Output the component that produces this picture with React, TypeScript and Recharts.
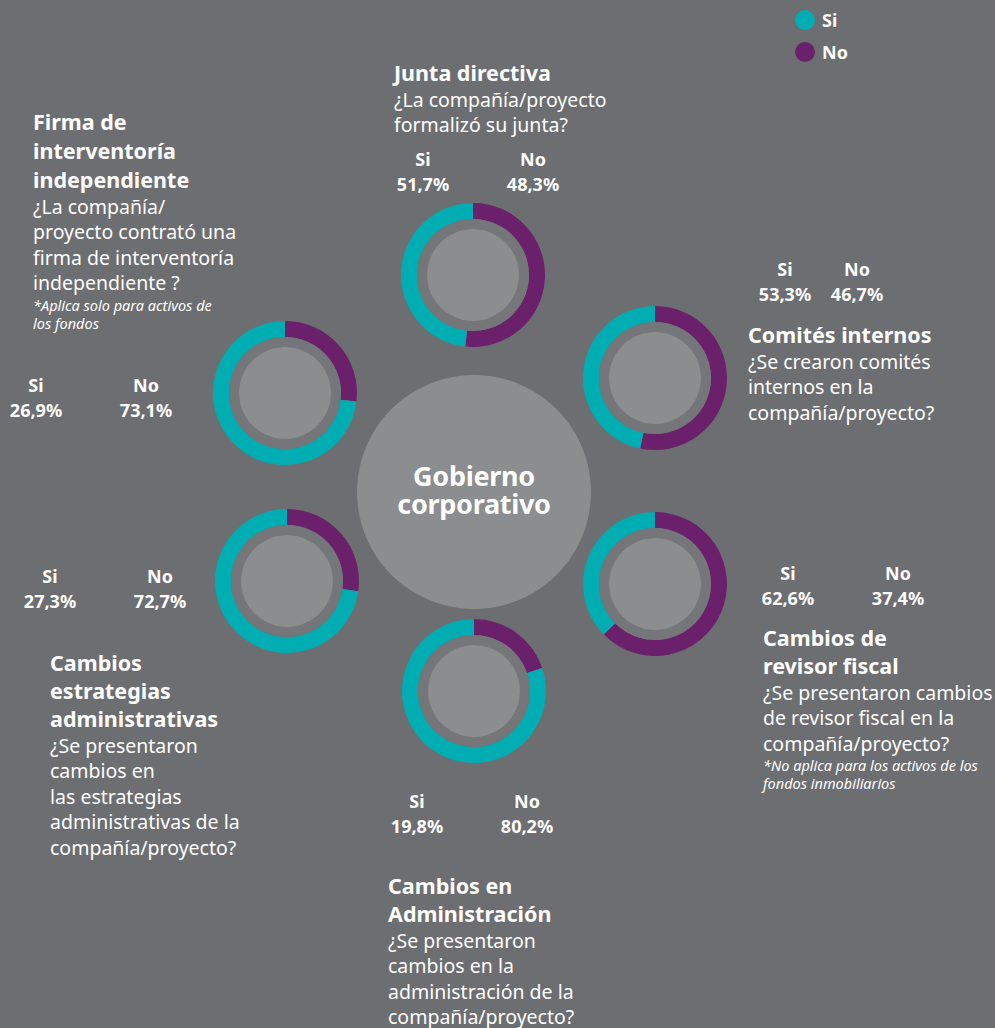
import React from 'react';
import { PieChart, Pie, Cell } from 'recharts';

// data
const groups = [
  'Junta directiva',
  'Comités internos',
  'Cambios de revisor fiscal',
  'Cambios en Administración',
  'Cambios estrategias administrativas',
  'Firma de interventoría independiente',
];
const siValues = [51.7, 53.3, 62.6, 19.8, 27.3, 26.9];
const noValues = [48.3, 46.7, 37.4, 80.2, 72.7, 73.1];
const siLabels = ['51,7%', '53,3%', '62,6%', '19,8%', '27,3%', '26,9%'];
const noLabels = ['48,3%', '46,7%', '37,4%', '80,2%', '72,7%', '73,1%'];

const W = 995;
const H = 1028;
const BG = '#6d6e71';
const TEAL = '#00adb2';
const PURPLE = '#6b206c';
const GAP = '#757679';
const DISC = '#8c8d8f';
const FONT = '"Noto Sans", sans-serif';

// donut centres on the page
const CENTERS = [
  [473, 275],
  [655, 378],
  [655, 584],
  [474, 691],
  [287, 581],
  [285, 393],
];

// Si/No label columns: [siX, noX, topY]
const PCT_POS = [
  [423, 533, 160],
  [785, 857, 270],
  [788, 898, 574],
  [417, 527, 802],
  [50, 160, 577],
  [36, 146, 386],
];

interface TextBlock {
  x: number;
  y: number;
  titleLh: number;
  title: string[];
  body: string[];
  note?: string[];
}

const BLOCKS: TextBlock[] = [
  { x: 394, y: 59, titleLh: 28, title: ['Junta directiva'], body: ['¿La compañía/proyecto', 'formalizó su junta?'] },
  { x: 748, y: 321, titleLh: 28, title: ['Comités internos'], body: ['¿Se crearon comités', 'internos en la', 'compañía/proyecto?'] },
  {
    x: 763, y: 624, titleLh: 28, title: ['Cambios de', 'revisor fiscal'],
    body: ['¿Se presentaron cambios', 'de revisor fiscal en la', 'compañía/proyecto?'],
    note: ['*No aplica para los activos de los', 'fondos inmobiliarios'],
  },
  {
    x: 388, y: 872, titleLh: 28, title: ['Cambios en', 'Administración'],
    body: ['¿Se presentaron', 'cambios en la', 'administración de la', 'compañía/proyecto?'],
  },
  {
    x: 50, y: 649, titleLh: 28, title: ['Cambios', 'estrategias', 'administrativas'],
    body: ['¿Se presentaron', 'cambios en', 'las estrategias', 'administrativas de la', 'compañía/proyecto?'],
  },
  {
    x: 33, y: 107, titleLh: 29, title: ['Firma de', 'interventoría', 'independiente'],
    body: ['¿La compañía/', 'proyecto contrató una', 'firma de interventoría', 'independiente ?'],
    note: ['*Aplica solo para activos de', 'los fondos'],
  },
];

function Block({ b }: { b: TextBlock }) {
  return (
    <div style={{ position: 'absolute', left: b.x, top: b.y, color: '#fff', fontFamily: FONT, whiteSpace: 'nowrap' }}>
      {b.title.map((t) => (
        <div key={t} style={{ fontSize: 21.5, fontWeight: 700, lineHeight: `${b.titleLh}px` }}>{t}</div>
      ))}
      {b.body.map((t) => (
        <div key={t} style={{ fontSize: 19.5, lineHeight: '25.4px' }}>{t}</div>
      ))}
      {b.note?.map((t) => (
        <div key={t} style={{ fontSize: 14.5, fontStyle: 'italic', lineHeight: '18px' }}>{t}</div>
      ))}
    </div>
  );
}

function Pct({ x, y, label, value }: { x: number; y: number; label: string; value: string }) {
  return (
    <div style={{ position: 'absolute', left: x - 50, top: y - 13, width: 100, textAlign: 'center', color: '#fff', fontFamily: FONT, fontWeight: 700, fontSize: 18, lineHeight: '25px' }}>
      <div>{label}</div>
      <div>{value}</div>
    </div>
  );
}

export default function App() {
  return (
    <div style={{ position: 'absolute', left: 0, top: 0, width: W, height: H, background: BG, overflow: 'hidden' }}>
      <PieChart width={W} height={H} margin={{ top: 0, right: 0, bottom: 0, left: 0 }} style={{ position: 'absolute', left: 0, top: 0 }}>
        <Pie data={[{ name: 'centro', value: 1 }]} dataKey="value" cx={474} cy={492} outerRadius={117} stroke="none" fill={DISC} isAnimationActive={false} />
        {groups.map((g, i) => {
          const [cx, cy] = CENTERS[i];
          const slices = [
            { name: 'Si', value: siValues[i] },
            { name: 'No', value: noValues[i] },
          ];
          return (
            <React.Fragment key={g}>
              <Pie
                data={slices}
                dataKey="value"
                cx={cx}
                cy={cy}
                innerRadius={56}
                outerRadius={72}
                startAngle={90}
                endAngle={-270}
                stroke="none"
                isAnimationActive={false}
              >
                <Cell fill={PURPLE} />
                <Cell fill={TEAL} />
              </Pie>
              <Pie data={[{ name: 'gap', value: 1 }]} dataKey="value" cx={cx} cy={cy} innerRadius={46} outerRadius={56} stroke="none" fill={GAP} isAnimationActive={false} />
              <Pie data={[{ name: 'disc', value: 1 }]} dataKey="value" cx={cx} cy={cy} outerRadius={46} stroke="none" fill={DISC} isAnimationActive={false} />
            </React.Fragment>
          );
        })}
      </PieChart>

      <div style={{ position: 'absolute', left: 374, top: 462, width: 200, textAlign: 'center', color: '#fff', fontFamily: FONT, fontWeight: 700, fontSize: 27, lineHeight: '27.5px', letterSpacing: -0.3 }}>
        <div>Gobierno</div>
        <div>corporativo</div>
      </div>

      {BLOCKS.map((b, i) => (
        <Block key={groups[i]} b={b} />
      ))}

      {PCT_POS.map(([sx, nx, y], i) => (
        <React.Fragment key={groups[i]}>
          <Pct x={sx} y={y} label="Si" value={siLabels[i]} />
          <Pct x={nx} y={y} label="No" value={noLabels[i]} />
        </React.Fragment>
      ))}

      {/* legend */}
      {[
        { name: 'Si', color: TEAL, y: 20 },
        { name: 'No', color: PURPLE, y: 52 },
      ].map((l) => (
        <div key={l.name} style={{ position: 'absolute', left: 795, top: l.y - 12, height: 24, display: 'flex', alignItems: 'center', gap: 7, color: '#fff', fontFamily: FONT, fontWeight: 700, fontSize: 18 }}>
          <span style={{ width: 20, height: 20, borderRadius: '50%', background: l.color, display: 'inline-block' }} />
          <span>{l.name}</span>
        </div>
      ))}
    </div>
  );
}
